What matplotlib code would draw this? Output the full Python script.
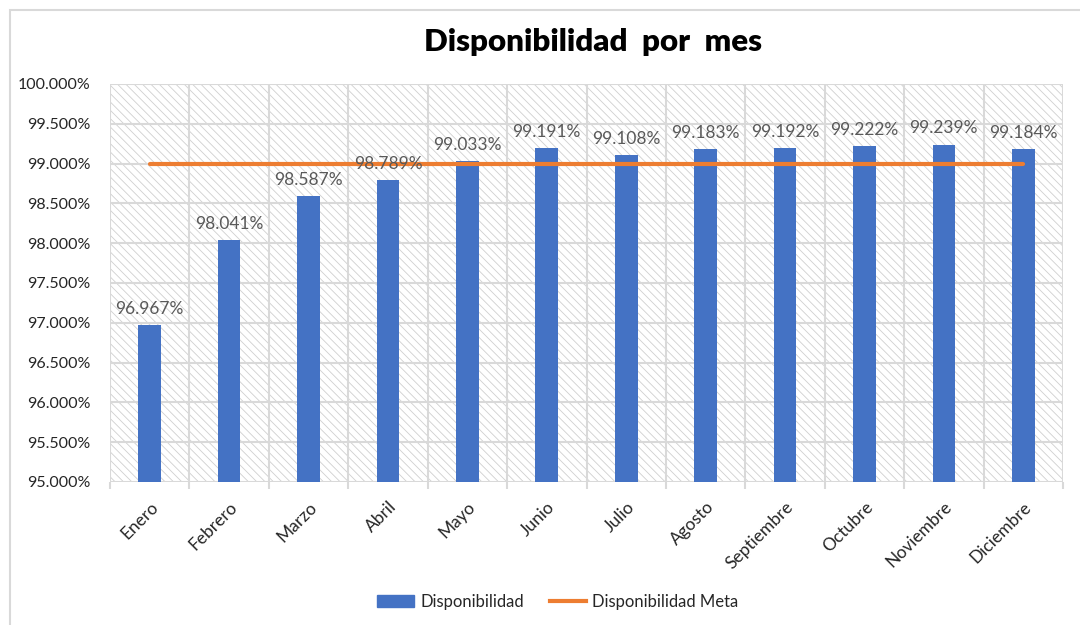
import matplotlib
matplotlib.use("Agg")
import matplotlib.pyplot as plt
from matplotlib.patches import Rectangle
from matplotlib.lines import Line2D
from matplotlib.ticker import FuncFormatter, MultipleLocator
import numpy as np

months = ["Enero", "Febrero", "Marzo", "Abril", "Mayo", "Junio", "Julio",
          "Agosto", "Septiembre", "Octubre", "Noviembre", "Diciembre"]
disponibilidad = [96.967, 98.041, 98.587, 98.789, 99.033, 99.191, 99.108,
                  99.183, 99.192, 99.222, 99.239, 99.184]
meta = [99.0] * 12

plt.rcParams['font.family'] = ['Lato', 'DejaVu Sans']
plt.rcParams['hatch.color'] = '#d0d0d0'
plt.rcParams['hatch.linewidth'] = 0.6

fig = plt.figure(figsize=(10.8, 6.25), dpi=100)
ax = fig.add_axes([110/1080, 1-482/625, (1063-110)/1080, (482-84)/625])

# outer chart border
fig.patches.append(Rectangle((10/1080, -0.1), 1.2, 1 - 10/625 + 0.1,
                             transform=fig.transFigure, fill=False,
                             edgecolor='#d9d9d9', linewidth=1.5))

x = np.arange(len(months))
ax.set_xlim(-0.5, len(months) - 0.5)
ax.set_ylim(95, 100)

# hatched background
ax.add_patch(Rectangle((0, 0), 1, 1, transform=ax.transAxes, facecolor='white',
                       edgecolor='#d0d0d0', hatch='\\' * 4, linewidth=0, zorder=0))

for yv in np.arange(95, 100.01, 0.5):
    ax.axhline(yv, color='#d9d9d9', linewidth=1.5, zorder=1)
for xv in np.arange(-0.5, len(months), 1.0):
    ax.axvline(xv, color='#d9d9d9', linewidth=1.5, zorder=1)

bars = ax.bar(x, [v - 95 for v in disponibilidad], bottom=95, width=0.285,
              color='#4472C4', zorder=3, label='Disponibilidad')
ax.plot(x, meta, color='#ED7D31', linewidth=3, zorder=4,
        label='Disponibilidad Meta', solid_capstyle='round')

for xi, v in zip(x, disponibilidad):
    ax.annotate(f"{v:.3f}%", (xi, v), xytext=(0, 6), textcoords='offset points',
                ha='center', va='bottom', fontsize=12.5, color='#595959', zorder=5)

ax.yaxis.set_major_locator(MultipleLocator(0.5))
ax.yaxis.set_major_formatter(FuncFormatter(lambda v, p: f"{v:.3f}%"))
ax.set_xticks(np.arange(-0.5, len(months), 1.0), minor=False)
ax.set_xticklabels([])
ax.set_xticks(x, minor=True)
ax.set_xticklabels(months, minor=True, rotation=45, ha='right',
                   rotation_mode='anchor', fontsize=12.5, color='#262626')
ax.tick_params(axis='x', which='major', length=5, color='#d9d9d9', width=1.5)
ax.tick_params(axis='x', which='minor', length=0, pad=12)
ax.tick_params(axis='y', length=0, labelsize=11.5, labelcolor='#262626', pad=14)

for s in ax.spines.values():
    s.set_visible(False)

fig.text(593/1080, 1-42/625, "Disponibilidad  por  mes", ha='center', va='center',
         fontsize=22.5, fontweight='heavy', color='black')

handles = [Rectangle((0, 0), 1, 1, color='#4472C4'),
           Line2D([0], [0], color='#ED7D31', linewidth=3)]
fig.legend(handles, ['Disponibilidad', 'Disponibilidad Meta'], loc='center',
           bbox_to_anchor=(558/1080, 1-602/625), ncol=2, frameon=False,
           fontsize=12, labelcolor='#262626', handlelength=2.2, handleheight=0.7,
           columnspacing=1.55, handletextpad=0.36)

fig.savefig("out.png", dpi=100, facecolor='white')
